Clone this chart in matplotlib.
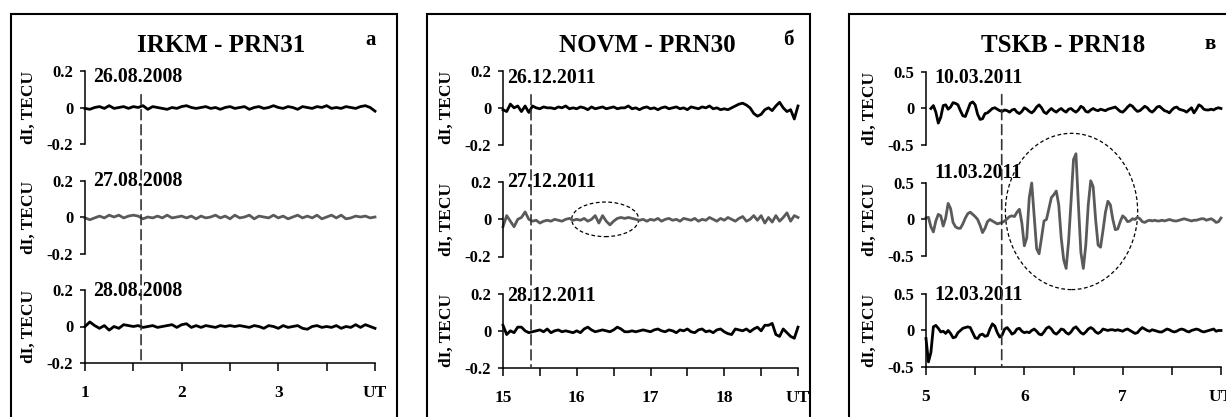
"""
dI (TECU) variations over three consecutive days for three GNSS station/satellite pairs.
Three framed panels, each with three stacked series sharing one UT axis.
"""
import numpy as np
import matplotlib
matplotlib.use("Agg")
import matplotlib.pyplot as plt
from matplotlib.patches import Ellipse, Rectangle, ConnectionPatch

plt.rcParams['font.family'] = ['Liberation Serif', 'DejaVu Serif']
plt.rcParams['font.weight'] = 'bold'
plt.rcParams['axes.labelweight'] = 'bold'

W, H = 1226, 417

# ── data ──────────────────────────────────────────────────────
IRKM_TITLE = "IRKM - PRN31"
IRKM_DATES = ["26.08.2008", "27.08.2008", "28.08.2008"]
IRKM_SPAN = [(1.0, 4.0), (1.0, 4.0), (1.0, 4.0)]
IRKM_XTICKS = [1, 2, 3, 4]
IRKM_XLABELS = ["1", "2", "3", "UT"]
IRKM_YTICKS = [-0.2, 0, 0.2]
IRKM_YLABELS = ["-0.2", "0", "0.2"]
IRKM_26 = [-0.005, -0.01, 0.0, 0.005, -0.005, 0.01, -0.005, 0.0, 0.005, -0.005,
           0.005, 0.0, 0.01, -0.01, 0.005, 0.0, -0.005, -0.01, 0.0, -0.005,
           0.005, 0.01, 0.0, -0.005, 0.0, 0.005, -0.005, 0.0, -0.01, 0.0,
           0.005, -0.005, 0.0, 0.005, -0.01, 0.0, 0.005, -0.005, 0.0, 0.01,
           0.0, -0.005, 0.005, 0.0, -0.01, 0.005, 0.0, -0.005, 0.005, 0.0,
           0.01, -0.005, 0.0, -0.005, 0.005, 0.0, -0.005, 0.005, 0.01, 0.0, -0.02]
IRKM_27 = [-0.005, -0.015, -0.005, 0.005, -0.005, 0.01, 0.0, 0.01, -0.005, 0.005,
           0.01, 0.005, -0.01, 0.0, -0.005, 0.005, -0.005, 0.01, -0.005, 0.0,
           0.005, -0.005, 0.005, -0.01, 0.005, -0.005, 0.0, 0.01, -0.005, 0.005,
           -0.01, 0.01, -0.005, 0.0, 0.01, -0.01, 0.005, 0.0, -0.005, 0.01,
           -0.005, 0.005, -0.01, 0.0, 0.01, -0.005, 0.005, -0.005, 0.01, -0.01,
           0.0, 0.01, -0.005, 0.01, -0.01, -0.005, 0.005, 0.0, 0.005, -0.005, 0.0]
IRKM_28 = [0.0, 0.025, 0.005, -0.01, 0.005, -0.02, 0.0, -0.01, 0.01, 0.005,
           0.0, 0.005, -0.005, 0.0, 0.005, -0.005, 0.0, 0.005, 0.01, -0.005,
           0.01, 0.015, -0.005, 0.005, -0.005, 0.005, 0.0, -0.005, 0.005, 0.0,
           0.005, 0.0, 0.005, 0.0, -0.005, 0.005, 0.0, -0.01, 0.005, 0.0,
           -0.01, 0.005, -0.005, 0.0, 0.005, -0.01, -0.015, 0.0, 0.005, -0.005,
           0.0, -0.005, 0.005, -0.01, 0.0, -0.005, 0.01, -0.005, 0.01, 0.0, -0.01]

NOVM_TITLE = "NOVM - PRN30"
NOVM_DATES = ["26.12.2011", "27.12.2011", "28.12.2011"]
NOVM_SPAN = [(15.0, 19.0), (15.0, 19.0), (15.0, 19.0)]
NOVM_XTICKS = [15, 16, 17, 18, 19]
NOVM_XLABELS = ["15", "16", "17", "18", "UT"]
NOVM_YTICKS = [-0.2, 0, 0.2]
NOVM_YLABELS = ["-0.2", "0", "0.2"]
NOVM_26 = [-0.01, -0.02, 0.02, 0.0, 0.01, -0.02, 0.01, -0.025, 0.01, 0.0,
           -0.005, 0.005, 0.0, 0.0, -0.005, 0.005, 0.0, 0.01, -0.005, 0.0,
           -0.005, 0.005, 0.0, -0.01, 0.005, -0.005, 0.0, 0.005, -0.005, 0.0,
           0.005, -0.005, 0.0, 0.0, 0.01, -0.005, 0.0, -0.01, 0.0, 0.005,
           -0.005, 0.0, -0.01, 0.0, 0.005, -0.005, 0.0, 0.005, -0.005, 0.0,
           -0.01, 0.005, 0.0, -0.005, 0.005, 0.0, 0.01, -0.005, 0.0, -0.01,
           -0.005, -0.01, 0.0, 0.01, 0.02, 0.025, 0.015, 0.0, -0.03, -0.045,
           -0.035, -0.01, 0.0, -0.015, 0.01, 0.03, 0.0, -0.02, -0.01, -0.06, 0.01]
NOVM_27 = [-0.04, 0.02, -0.01, -0.04, 0.0, 0.01, 0.04, 0.0, -0.01, -0.005,
           -0.02, -0.01, -0.005, -0.01, 0.0, -0.005, -0.01, 0.0, 0.005, -0.005,
           0.0, -0.005, 0.005, -0.01, 0.0, 0.02, -0.02, 0.02, -0.01, -0.03,
           -0.01, 0.005, 0.01, 0.005, 0.01, 0.005, 0.0, -0.005, 0.0, -0.01,
           0.0, -0.005, 0.005, -0.01, 0.0, 0.005, -0.005, 0.0, -0.01, 0.005,
           0.0, -0.005, 0.005, -0.01, 0.0, -0.005, 0.01, 0.0, -0.01, 0.005,
           -0.005, 0.01, 0.0, -0.01, 0.005, 0.015, -0.01, 0.0, 0.02, -0.005,
           0.02, -0.02, 0.01, -0.015, 0.02, -0.01, 0.01, 0.035, -0.01, 0.02, 0.01]
NOVM_28 = [0.03, -0.02, 0.0, -0.01, 0.02, 0.02, 0.0, -0.01, -0.005, 0.0,
           0.005, -0.005, 0.01, -0.01, 0.0, 0.005, -0.005, 0.0, -0.005, -0.01,
           0.0, -0.01, 0.01, 0.02, 0.005, -0.005, 0.0, 0.005, 0.0, -0.005,
           0.005, 0.02, 0.01, -0.005, -0.005, 0.0, -0.005, 0.0, 0.005, 0.0,
           -0.005, 0.005, 0.01, 0.0, -0.005, 0.005, 0.0, -0.01, 0.005, 0.0,
           0.01, -0.005, -0.01, 0.005, 0.01, -0.005, 0.0, -0.01, 0.005, 0.01,
           -0.005, -0.015, -0.02, 0.01, 0.005, 0.0, 0.01, -0.005, 0.01, 0.02,
           0.0, 0.03, 0.03, 0.04, -0.02, -0.03, 0.01, -0.01, -0.03, -0.04, 0.02]

TSKB_TITLE = "TSKB - PRN18"
TSKB_DATES = ["10.03.2011", "11.03.2011", "12.03.2011"]
TSKB_SPAN = [(5.05, 8.0), (5.0, 8.0), (5.0, 8.0)]
TSKB_XTICKS = [5, 6, 7, 8]
TSKB_XLABELS = ["5", "6", "7", "UT"]
TSKB_YTICKS = [-0.5, 0, 0.5]
TSKB_YLABELS = ["-0.5", "0", "0.5"]
TSKB_10 = [0.0, 0.04, -0.05, -0.2, -0.12, 0.04, 0.05, -0.01, 0.02, 0.08,
           0.07, 0.05, -0.03, -0.1, -0.11, -0.02, 0.07, 0.09, 0.05, -0.08,
           -0.15, -0.14, -0.07, -0.06, -0.03, 0.0, 0.01, -0.01, -0.03, -0.04,
           -0.02, -0.03, -0.05, -0.02, -0.01, -0.05, -0.07, -0.04, 0.01, -0.01,
           -0.04, -0.06, -0.03, 0.02, 0.05, 0.01, -0.05, -0.07, -0.03, 0.0,
           -0.03, -0.05, -0.02, 0.0, -0.03, -0.05, -0.01, 0.0, -0.03, -0.05,
           -0.02, 0.03, 0.01, -0.04, -0.05, -0.02, 0.0, -0.02, -0.03, -0.01,
           -0.02, -0.03, -0.01, 0.0, 0.01, 0.02, -0.01, -0.04, -0.05, -0.02,
           0.02, 0.05, 0.03, -0.01, -0.04, -0.03, 0.0, 0.03, 0.01, -0.03,
           -0.05, -0.02, 0.02, 0.03, 0.0, -0.03, -0.04, -0.06, -0.02, 0.01,
           0.02, -0.01, -0.02, -0.03, -0.05, -0.02, 0.01, -0.06, -0.01, 0.05,
           0.03, -0.01, -0.02, -0.02, -0.01, -0.02, 0.0, 0.01, 0.0]
TSKB_11 = [0.02, 0.03, -0.10, -0.17, -0.02, 0.07, 0.05, -0.09, 0.02, 0.22,
           0.15, -0.04, -0.10, -0.12, -0.12, -0.06, 0.02, 0.08, 0.10, 0.07,
           0.04, 0.00, -0.08, -0.18, -0.12, -0.03, 0.00, -0.02, -0.04, -0.06,
           -0.05, -0.04, -0.02, 0.01, 0.04, 0.05, 0.04, 0.10, 0.14, -0.05,
           -0.36, -0.25, 0.30, 0.50, 0.05, -0.40, -0.47, -0.25, -0.02, 0.00,
           0.15, 0.30, 0.34, 0.39, 0.20, -0.25, -0.55, -0.67, -0.30, 0.25,
           0.82, 0.90, 0.20, -0.45, -0.67, -0.35, 0.20, 0.53, 0.45, 0.00,
           -0.35, -0.38, -0.15, 0.10, 0.25, 0.20, 0.00, -0.14, -0.13, -0.03,
           0.05, 0.02, -0.03, -0.02, 0.01, 0.00, 0.03, 0.01, -0.03, -0.04,
           -0.02, -0.01, -0.02, -0.01, -0.02, -0.02, -0.01, -0.02, -0.01, 0.00,
           -0.01, -0.02, -0.02, -0.01, 0.00, 0.01, 0.00, -0.01, -0.02, -0.01,
           -0.01, 0.00, 0.01, 0.01, -0.01, 0.00, 0.01, -0.01, -0.04, -0.03, 0.02]
TSKB_12 = [-0.11, -0.43, -0.3, 0.05, 0.07, 0.03, -0.02, -0.01, -0.04, 0.0,
           -0.04, -0.1, -0.09, -0.03, 0.0, 0.03, 0.04, 0.05, 0.04, -0.03,
           -0.1, -0.11, -0.06, -0.05, -0.08, -0.07, 0.02, 0.09, 0.06, -0.03,
           -0.09, -0.06, 0.02, 0.04, 0.0, -0.05, -0.03, 0.02, 0.03, -0.01,
           -0.03, -0.02, -0.03, 0.0, 0.02, -0.01, -0.05, -0.06, -0.02, 0.03,
           0.05, 0.02, -0.03, -0.05, -0.02, 0.02, 0.01, -0.03, -0.05, -0.02,
           0.03, 0.05, 0.01, -0.03, -0.05, -0.02, 0.02, 0.04, 0.02, -0.02,
           -0.04, -0.02, 0.02, 0.01, 0.0, 0.01, 0.01, 0.0, 0.01, 0.0,
           -0.01, 0.01, 0.02, 0.0, -0.02, -0.04, -0.03, 0.01, 0.04, 0.02,
           0.0, -0.01, 0.01, 0.0, -0.01, -0.02, -0.02, 0.0, 0.02, 0.01,
           -0.01, -0.02, -0.01, 0.01, 0.02, 0.01, -0.01, -0.02, 0.0, 0.01,
           0.02, 0.01, -0.01, -0.02, -0.01, 0.0, 0.01, 0.02, -0.01, 0.0, 0.0]

SERIES_COLORS = ["black", "#5a5a5a", "black"]

# ── layout (pixels of the 1226x417 picture) ──────────────────
panels = [
    dict(title=IRKM_TITLE, letter="а", dates=IRKM_DATES, span=IRKM_SPAN,
         series=[IRKM_26, IRKM_27, IRKM_28], xticks=IRKM_XTICKS, xlabels=IRKM_XLABELS,
         yticks=IRKM_YTICKS, ylabels=IRKM_YLABELS, ylim=(-0.2, 0.40),
         x0=85, x1=375, axis_y=363, row_h=109.5, date_dx=8, date_dy=[31, 36, 35],
         dash_t=1.58, dash_top=0.07, frame=(11, 397), title_xy=(221, 45),
         letter_xy=(371, 40), ellipse=None),
    dict(title=NOVM_TITLE, letter="б", dates=NOVM_DATES, span=NOVM_SPAN,
         series=[NOVM_26, NOVM_27, NOVM_28], xticks=NOVM_XTICKS, xlabels=NOVM_XLABELS,
         yticks=NOVM_YTICKS, ylabels=NOVM_YLABELS, ylim=(-0.2, 0.40),
         x0=503, x1=798, axis_y=368, row_h=111.5, date_dx=4, date_dy=[30, 37, 35],
         dash_t=15.38, dash_top=0.07, frame=(427, 810), title_xy=(647, 45),
         letter_xy=(788, 40), ellipse=((16.385, 0.0), 0.91, 0.186)),
    dict(title=TSKB_TITLE, letter="в", dates=TSKB_DATES, span=TSKB_SPAN,
         series=[TSKB_10, TSKB_11, TSKB_12], xticks=TSKB_XTICKS, xlabels=TSKB_XLABELS,
         yticks=TSKB_YTICKS, ylabels=TSKB_YLABELS, ylim=(-0.5, 1.02),
         x0=926, x1=1221, axis_y=367, row_h=111, date_dx=8, date_dy=[30, 46, 35],
         dash_t=5.77, dash_top=0.19, frame=(849, 1240), title_xy=(1063, 45),
         letter_xy=(1210, 44), ellipse=((6.48, 0.11), 1.345, 2.14)),
]

fig = plt.figure(figsize=(W / 100, H / 100), dpi=100)

for p in panels:
    # frame around the panel (bottom and, for the last panel, right edge run off the picture)
    fx0, fx1 = p["frame"]
    fig.add_artist(Rectangle((fx0 / W, -0.1), (fx1 - fx0) / W, (H - 14) / H + 0.1,
                             transform=fig.transFigure, fill=False, lw=1.5,
                             edgecolor="black"))
    fig.text(p["title_xy"][0] / W, 1 - p["title_xy"][1] / H, p["title"],
             ha="center", va="center", fontsize=18)
    fig.text(p["letter_xy"][0] / W, 1 - p["letter_xy"][1] / H, p["letter"],
             ha="center", va="center", fontsize=15)

    xmin, xmax = p["xticks"][0], p["xticks"][-1]
    lim = p["yticks"][-1]
    axes = []
    for i in range(3):
        bottom = (H - p["axis_y"] + (2 - i) * p["row_h"]) / H
        ax = fig.add_axes([p["x0"] / W, bottom, (p["x1"] - p["x0"]) / W, p["row_h"] / H])
        ax.patch.set_visible(False)
        ax.set_xlim(xmin, xmax)
        ax.set_ylim(*p["ylim"])
        t0, t1 = p["span"][i]
        vals = np.array(p["series"][i])
        t = np.linspace(t0, t1, len(vals))
        ax.plot(t, vals, color=SERIES_COLORS[i], lw=2.0, clip_on=False,
                solid_joinstyle="round")

        for s in ("top", "right"):
            ax.spines[s].set_visible(False)
        ax.spines["left"].set_bounds(-lim, lim)
        ax.spines["left"].set_linewidth(1.1)
        ax.set_yticks(p["yticks"])
        ax.set_yticklabels(p["ylabels"])
        ax.tick_params(axis="y", direction="out", length=3.5, width=1.1,
                       labelsize=12, pad=5)
        ax.set_ylabel("dI, TECU", fontsize=12.5)
        ax.yaxis.set_label_coords(-48 / (p["x1"] - p["x0"]),
                                  (0 - p["ylim"][0]) / (p["ylim"][1] - p["ylim"][0]))

        ax.annotate(p["dates"][i], xy=(xmin, 0),
                    xytext=(p["date_dx"] * 0.72, p["date_dy"][i] * 0.72),
                    textcoords="offset points", ha="left", va="center", fontsize=14.3)

        if i < 2:
            ax.spines["bottom"].set_visible(False)
            ax.set_xticks([])
        else:
            ax.spines["bottom"].set_linewidth(1.1)
            ax.spines["bottom"].set_bounds(xmin, xmax)
            ax.set_xticks(p["xticks"])
            ax.set_xticklabels(p["xlabels"])
            ax.set_xticks(np.array(p["xticks"][:-1]) + 0.5, minor=True)
            ax.tick_params(axis="x", which="both", direction="out", length=6,
                           width=1.1, labelsize=12.5, pad=10)
        axes.append(ax)

    if p["ellipse"] is not None:
        c, w, h = p["ellipse"]
        axes[1].add_patch(Ellipse(c, w, h, fill=False, edgecolor="black", lw=0.9,
                                  linestyle=(0, (3, 2)), clip_on=False))

    fig.add_artist(ConnectionPatch(xyA=(p["dash_t"], p["dash_top"]), coordsA=axes[0].transData,
                                   xyB=(p["dash_t"], p["ylim"][0]), coordsB=axes[2].transData,
                                   color="#333333", lw=1.2, linestyle=(0, (6, 3))))

fig.savefig("out.png", dpi=100)
